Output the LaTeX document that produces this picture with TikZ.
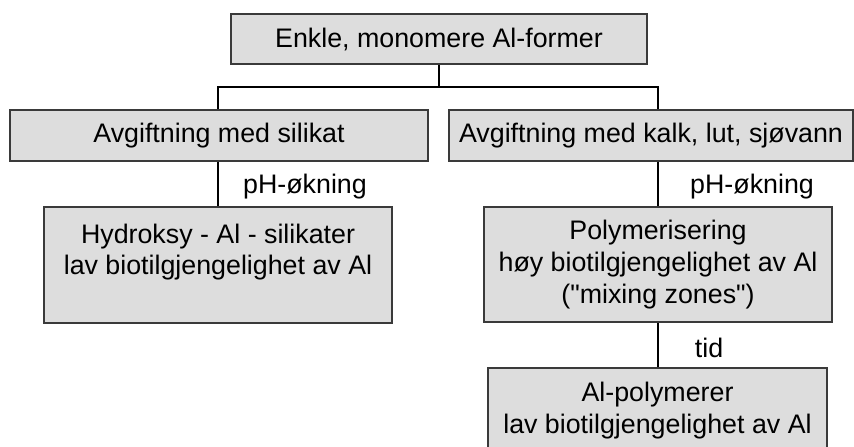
\documentclass[tikz,border=0pt]{standalone}
\usepackage{fontspec}
\setmainfont{Liberation Sans}
\definecolor{boxfill}{HTML}{DDDDDD}
\definecolor{boxline}{HTML}{3A3A3A}
\begin{document}
\begin{tikzpicture}[x=0.5pt,y=-0.5pt,
  box/.style={draw=boxline,fill=boxfill,line width=1pt,inner sep=0pt,align=center,
    font=\fontsize{13.4}{15.8}\selectfont},
  conn/.style={draw=black,line width=1pt},
  lbl/.style={font=\fontsize{13.4}{15.8}\selectfont,inner sep=0pt}]
\useasboundingbox (0,0) rectangle (854,446);
\node[box,minimum width=208pt,minimum height=25pt] (top) at (439,39) {Enkle, monomere Al-former};
\node[box,minimum width=209pt,minimum height=25.5pt] (lb) at (219,135.5) {Avgiftning med silikat};
\node[box,minimum width=202pt,minimum height=25.5pt] (rb) at (651,135.5) {Avgiftning med kalk, lut, sjøvann};
\node[box,minimum width=174pt,minimum height=58pt] (ll) at (218,265) {Hydroksy - Al - silikater\\lav biotilgjengelighet av Al\\~};
\node[box,minimum width=174pt,minimum height=57.5pt] (rl) at (658,264.5) {Polymerisering\\høy biotilgjengelighet av Al\\(\textquotedbl mixing zones\textquotedbl)};
\node[box,minimum width=169.5pt,minimum height=42.5pt] (bt) at (657.5,410.5) {Al-polymerer\\lav biotilgjengelighet av Al};
\coordinate (jl) at (218,87);
\coordinate (jr) at (658,87);
\draw[conn] (top.south) -- (top.south |- jl);
\draw[conn] (jl |- lb.north) -- (jl) -- (jr) -- (jr |- rb.north);
\draw[conn] (ll.north) -- (ll.north |- lb.south);
\draw[conn] (rl.north) -- (rl.north |- rb.south);
\draw[conn] (rl.south) -- (rl.south |- bt.north);
\node[lbl] (ph1) at (305,187) {pH-økning};
\node[lbl] (ph2) at (752,187) {pH-økning};
\node[lbl] (tid) at (709,348) {tid};
\end{tikzpicture}
\end{document}
